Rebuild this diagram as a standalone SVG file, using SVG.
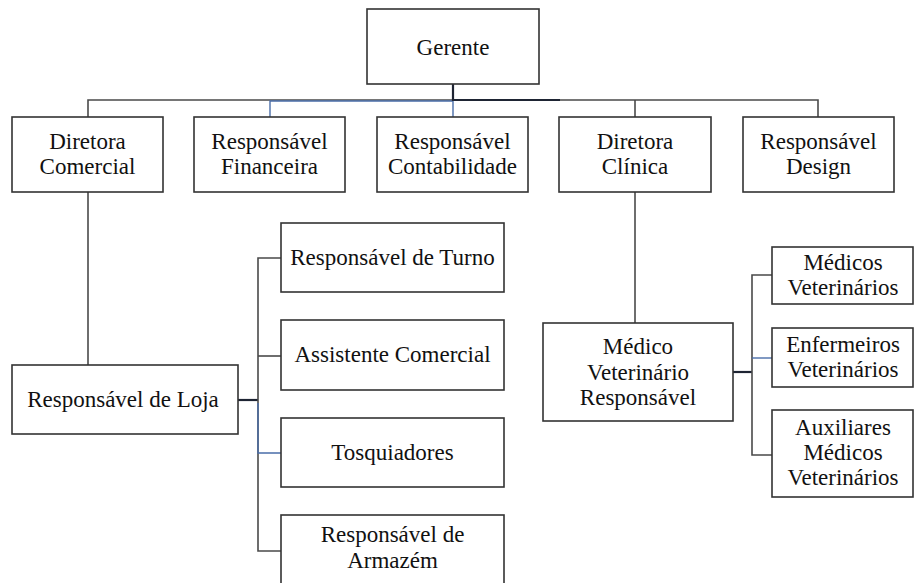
<svg xmlns="http://www.w3.org/2000/svg" width="914" height="583" viewBox="0 0 914 583">
<style>
.box{fill:#fff;stroke:#333;stroke-width:1.6}
text{font-family:'Liberation Serif','Times New Roman','DejaVu Serif',serif;font-size:23px;fill:#111;text-anchor:middle}
.c{fill:none;stroke:#4a4a4a;stroke-width:1.6}
.cb{fill:none;stroke:#4a6ea9;stroke-width:1.4}
.cd{fill:none;stroke:#1e2433;stroke-width:2.2}
</style>
<rect width="914" height="583" fill="#fff"/>
<g id="connectors">
<path class="c" d="M88 117V100H818V117"/>
<path class="cb" d="M270 117V101H453V117"/>
<path class="cd" d="M453 84V100H560"/>
<path class="c" d="M635 100V117"/>
<path class="c" d="M88 192V365"/>
<path class="cd" d="M238 400H258"/>
<path class="c" d="M281 258H258V551H281"/>
<path class="c" d="M258 356H281"/>
<path class="cb" d="M258 403V453H281"/>
<path class="c" d="M635 192V323"/>
<path class="cd" d="M733 372H752"/>
<path class="c" d="M772 275H752V455H772"/>
<path class="cb" d="M752 358H772"/>
</g>
<g font-family="Liberation Serif, serif">
<g id="gerente"><rect class="box" x="367" y="9" width="172" height="75"/><text x="453" y="55">Gerente</text></g>
<g id="diretora-comercial"><rect class="box" x="12" y="117" width="151" height="75"/><text x="87.5" y="149">Diretora</text><text x="87.5" y="174">Comercial</text></g>
<g id="resp-financeira"><rect class="box" x="194" y="117" width="151" height="75"/><text x="269.5" y="149">Responsável</text><text x="269.5" y="174">Financeira</text></g>
<g id="resp-contabilidade"><rect class="box" x="377" y="117" width="151" height="75"/><text x="452.5" y="149">Responsável</text><text x="452.5" y="174">Contabilidade</text></g>
<g id="diretora-clinica"><rect class="box" x="559" y="117" width="152" height="75"/><text x="635" y="149">Diretora</text><text x="635" y="174">Clínica</text></g>
<g id="resp-design"><rect class="box" x="743" y="117" width="151" height="75"/><text x="818.5" y="149">Responsável</text><text x="818.5" y="174">Design</text></g>
<g id="resp-loja"><rect class="box" x="12" y="365" width="226" height="69"/><text x="123" y="407">Responsável de Loja</text></g>
<g id="resp-turno"><rect class="box" x="281" y="223" width="223" height="69"/><text x="392.5" y="265">Responsável de Turno</text></g>
<g id="assistente-comercial"><rect class="box" x="281" y="320" width="223" height="70"/><text x="392.5" y="362">Assistente Comercial</text></g>
<g id="tosquiadores"><rect class="box" x="281" y="418" width="223" height="69"/><text x="392.5" y="460">Tosquiadores</text></g>
<g id="resp-armazem"><rect class="box" x="281" y="515" width="223" height="75"/><text x="392.5" y="542">Responsável de</text><text x="392.5" y="568">Armazém</text></g>
<g id="medico-vet-resp"><rect class="box" x="543" y="323" width="190" height="98"/><text x="638" y="354">Médico</text><text x="638" y="380">Veterinário</text><text x="638" y="405">Responsável</text></g>
<g id="medicos-vet"><rect class="box" x="772" y="247" width="141" height="57"/><text x="843" y="270">Médicos</text><text x="843" y="295">Veterinários</text></g>
<g id="enfermeiros-vet"><rect class="box" x="772" y="328" width="141" height="59"/><text x="843" y="352">Enfermeiros</text><text x="843" y="377">Veterinários</text></g>
<g id="auxiliares"><rect class="box" x="772" y="410" width="141" height="87"/><text x="843" y="435">Auxiliares</text><text x="843" y="460">Médicos</text><text x="843" y="485">Veterinários</text></g>
</g>
</svg>
